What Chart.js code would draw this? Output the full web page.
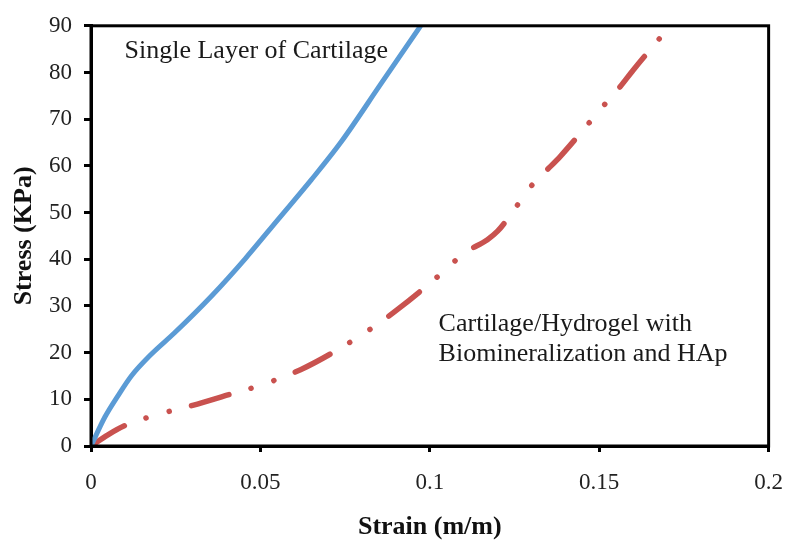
<!DOCTYPE html>
<html>
<head>
<meta charset="utf-8">
<script src="https://cdn.jsdelivr.net/npm/chart.js@4/dist/chart.umd.min.js"></script>
<style>
html,body{margin:0;padding:0;background:#fff;}
#wrap{width:800px;height:543px;position:relative;}
</style>
</head>
<body>
<div id="wrap"><canvas id="c" width="800" height="543"></canvas></div>
<script>
// Data
const singleStrain = [0, 0.0041, 0.008, 0.0119, 0.0177, 0.0246, 0.0358, 0.0455, 0.0553, 0.065, 0.0738, 0.0855, 0.0972];
const singleStress = [0, 6.2, 10.8, 15.0, 19.6, 24.2, 32.3, 40.1, 48.6, 57.0, 65.1, 77.5, 89.9];

const hydroStrain = [0, 0.005, 0.0104, 0.02, 0.03, 0.0416, 0.05, 0.062, 0.073, 0.085, 0.0904, 0.1006, 0.1106, 0.117, 0.12, 0.125, 0.129, 0.134, 0.1386, 0.147, 0.1513, 0.156, 0.16, 0.1683];
const hydroStress = [0, 2.4, 4.5, 6.8, 8.7, 11.2, 13.0, 16.4, 20.7, 26.3, 29.2, 35.2, 41.5, 44.2, 46.0, 50.7, 54.9, 58.7, 62.1, 69.2, 72.9, 76.8, 80.5, 87.7];

const xTickLabels = ["0", "0.05", "0.1", "0.15", "0.2"];
const xTickValues = [0, 0.05, 0.1, 0.15, 0.2];
const yTickLabels = ["0","10","20","30","40","50","60","70","80","90"];

const seriesNames = ["Single Layer of Cartilage", "Cartilage/Hydrogel with Biomineralization and HAp"];
const annotations = [
  {lines: ["Single Layer of Cartilage"], x: 0.0099, y: 83.2},
  {lines: ["Cartilage/Hydrogel with", "Biomineralization and HAp"], x: 0.1026, y: 24.6}
];

const toPts = (xs, ys) => xs.map((x, i) => ({x: x, y: ys[i]}));

const serif = "'Liberation Serif', 'Times New Roman', serif";

const framePlugin = {
  id: 'frame',
  afterDatasetsDraw(chart) {
    const {ctx, chartArea: a, scales} = chart;
    ctx.save();
    ctx.strokeStyle = '#000';
    ctx.lineWidth = 3;
    ctx.strokeRect(a.left, a.top, a.right - a.left, a.bottom - a.top);
    ctx.fillStyle = '#1a1a1a';
    ctx.font = '26px ' + serif;
    ctx.textBaseline = 'alphabetic';
    ctx.textAlign = 'left';
    annotations.forEach(an => {
      const px = scales.x.getPixelForValue(an.x);
      const py = scales.y.getPixelForValue(an.y);
      an.lines.forEach((t, i) => ctx.fillText(t, px, py + i * 30));
    });
    ctx.restore();
  }
};

new Chart(document.getElementById('c'), {
  type: 'line',
  data: {
    datasets: [
      {
        label: seriesNames[0],
        data: toPts(singleStrain, singleStress),
        borderColor: '#5B9BD5',
        borderWidth: 5,
        pointRadius: 0,
        fill: false,
        cubicInterpolationMode: 'monotone',
        borderCapStyle: 'round'
      },
      {
        label: seriesNames[1],
        data: toPts(hydroStrain, hydroStress),
        borderColor: '#C9524F',
        borderWidth: 5.5,
        pointRadius: 0,
        fill: false,
        cubicInterpolationMode: 'monotone',
        borderCapStyle: 'round',
        borderDash: [39, 23, 0.1, 24, 0.1, 23]
      }
    ]
  },
  options: {
    responsive: false,
    animation: false,
    devicePixelRatio: 1,
    layout: {padding: {left: 0, right: 25, top: 21, bottom: 0}},
    plugins: {legend: {display: false}, tooltip: {enabled: false}},
    scales: {
      x: {
        type: 'linear',
        min: 0, max: 0.2,
        afterBuildTicks: (s) => { s.ticks = xTickValues.map(v => ({value: v})); },
        afterFit: (s) => { s.height = 97; },
        ticks: {
          callback: (v) => { const i = xTickValues.indexOf(v); return i >= 0 ? xTickLabels[i] : ''; },
          color: '#222',
          font: {family: serif, size: 23},
          padding: 17,
          maxRotation: 0
        },
        grid: {display: true, drawOnChartArea: false, drawTicks: true, tickLength: 6, color: '#000', lineWidth: 3},
        border: {display: true, color: '#000', width: 3},
        title: {display: true, text: 'Strain (m/m)', color: '#111', font: {family: serif, size: 26, weight: 'bold'}, padding: {top: 14, bottom: 0}}
      },
      y: {
        type: 'linear',
        min: 0, max: 90,
        afterFit: (s) => { s.width = 91; },
        ticks: {
          stepSize: 10,
          callback: (v) => yTickLabels[Math.round(v / 10)],
          color: '#222',
          font: {family: serif, size: 23},
          padding: 12
        },
        grid: {display: true, drawOnChartArea: false, drawTicks: true, tickLength: 7, color: '#000', lineWidth: 3},
        border: {display: true, color: '#000', width: 3},
        title: {display: true, text: 'Stress (KPa)', color: '#111', font: {family: serif, size: 26, weight: 'bold'}, padding: {top: 9, bottom: 4}}
      }
    }
  },
  plugins: [framePlugin]
});
</script>
</body>
</html>
